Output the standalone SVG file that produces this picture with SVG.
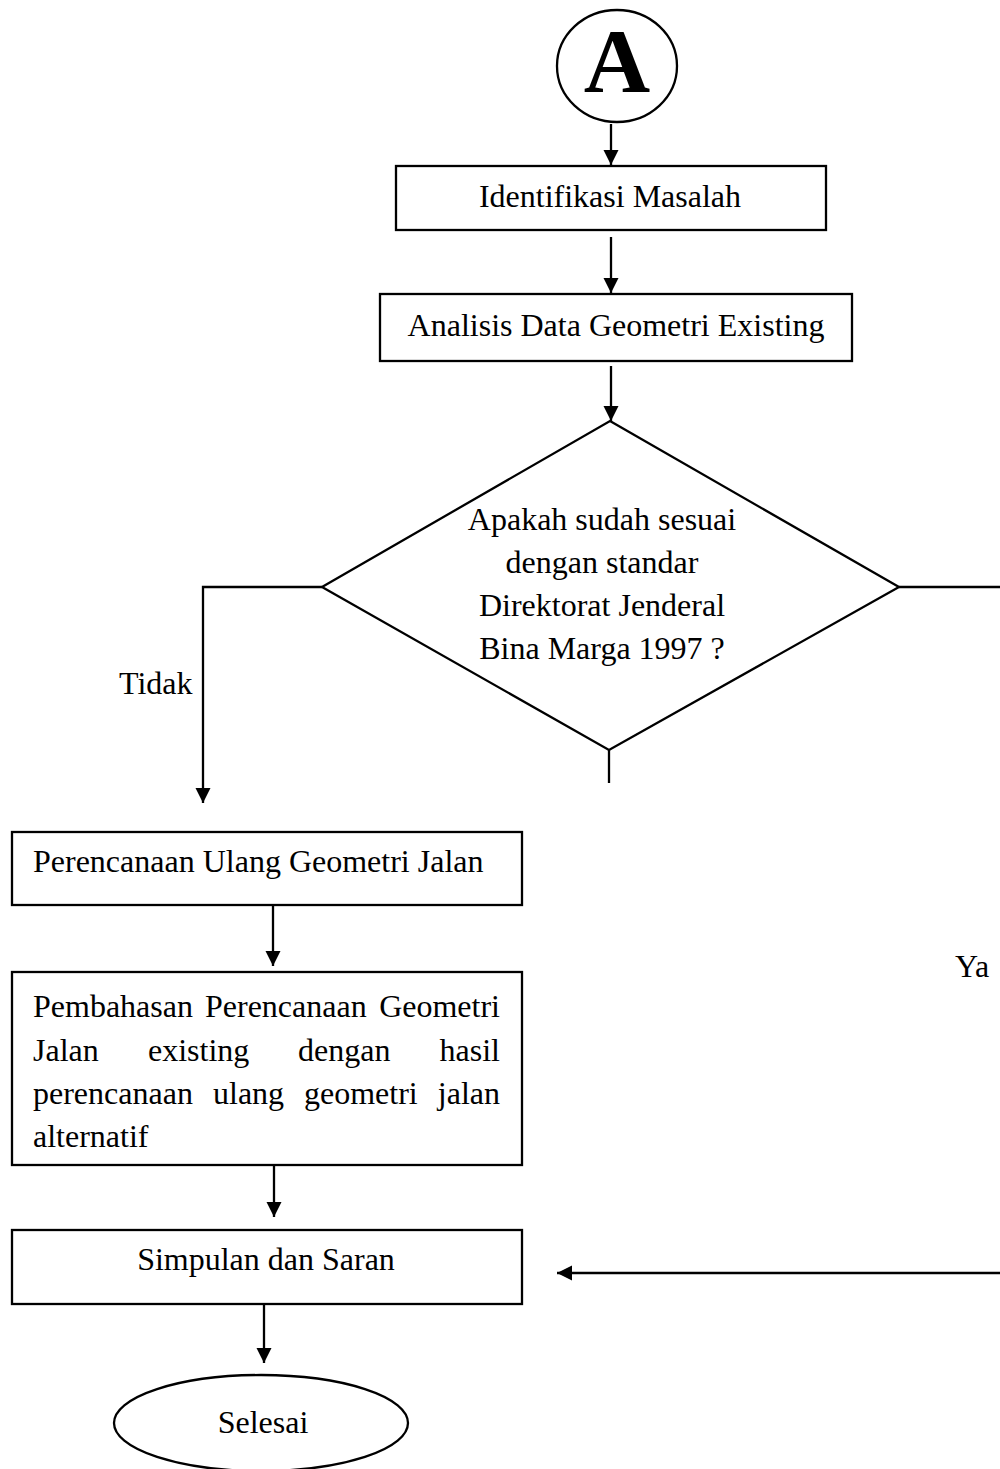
<svg xmlns="http://www.w3.org/2000/svg" width="1000" height="1469" viewBox="0 0 1000 1469">
<style>
.shape{fill:#fff;stroke:#000;stroke-width:2.3}
.conn{fill:none;stroke:#000;stroke-width:2.3}
.t{font-family:"Liberation Serif","Times New Roman",serif;font-size:32px;fill:#000}
.m{text-anchor:middle}
</style>
<defs>
<marker id="ah" markerUnits="userSpaceOnUse" markerWidth="16" markerHeight="17" viewBox="0 0 16 17" refX="15" refY="8" orient="auto">
<path d="M0,0.5 L15,8 L0,15.5 Z" fill="#000"/>
</marker>
</defs>
<rect width="1000" height="1469" fill="#fff"/>
<g id="connectors">
<line class="conn" x1="611" y1="124" x2="611" y2="165" marker-end="url(#ah)"/>
<line class="conn" x1="611" y1="237" x2="611" y2="293" marker-end="url(#ah)"/>
<line class="conn" x1="611" y1="366" x2="611" y2="421" marker-end="url(#ah)"/>
<polyline class="conn" points="322,587 203,587 203,803" marker-end="url(#ah)"/>
<line class="conn" x1="609" y1="750" x2="609" y2="783"/>
<line class="conn" x1="899" y1="587" x2="1000" y2="587"/>
<line class="conn" x1="273" y1="905" x2="273" y2="966" marker-end="url(#ah)"/>
<line class="conn" x1="274" y1="1165" x2="274" y2="1217" marker-end="url(#ah)"/>
<line class="conn" x1="264" y1="1304" x2="264" y2="1363" marker-end="url(#ah)"/>
<line class="conn" x1="1000" y1="1273" x2="557" y2="1273" marker-end="url(#ah)"/>
<text class="t" x="119" y="694">Tidak</text>
<text class="t" x="955" y="977">Ya</text>
</g>
<g id="node-A">
<ellipse class="shape" cx="617" cy="66" rx="60" ry="56"/>
<text class="m" x="617" y="92" font-family="Liberation Serif, Times New Roman, serif" font-size="92" font-weight="bold">A</text>
</g>
<g id="node-identifikasi">
<rect class="shape" x="396" y="166" width="430" height="64"/>
<text class="t m" x="610" y="207">Identifikasi Masalah</text>
</g>
<g id="node-analisis">
<rect class="shape" x="380" y="294" width="472" height="67"/>
<text class="t m" x="616" y="336">Analisis Data Geometri Existing</text>
</g>
<g id="node-decision">
<polygon class="shape" points="610,421 899,587 609,750 322,587"/>
<text class="t m" x="602" y="530">Apakah sudah sesuai</text>
<text class="t m" x="602" y="573">dengan standar</text>
<text class="t m" x="602" y="616">Direktorat Jenderal</text>
<text class="t m" x="602" y="659">Bina Marga 1997 ?</text>
</g>
<g id="node-perencanaan">
<rect class="shape" x="12" y="832" width="510" height="73"/>
<text class="t" x="33" y="872">Perencanaan Ulang Geometri Jalan</text>
</g>
<g id="node-pembahasan">
<rect class="shape" x="12" y="972" width="510" height="193"/>
<text class="t" x="33" y="1017">Pembahasan</text>
<text class="t" x="205" y="1017">Perencanaan</text>
<text class="t" x="500" y="1017" text-anchor="end">Geometri</text>
<text class="t" x="33" y="1061">Jalan</text>
<text class="t" x="148" y="1061">existing</text>
<text class="t" x="298" y="1061">dengan</text>
<text class="t" x="500" y="1061" text-anchor="end">hasil</text>
<text class="t" x="33" y="1104">perencanaan</text>
<text class="t" x="213" y="1104">ulang</text>
<text class="t" x="304" y="1104">geometri</text>
<text class="t" x="500" y="1104" text-anchor="end">jalan</text>
<text class="t" x="33" y="1147">alternatif</text>
</g>
<g id="node-simpulan">
<rect class="shape" x="12" y="1230" width="510" height="74"/>
<text class="t m" x="266" y="1270">Simpulan dan Saran</text>
</g>
<g id="node-selesai">
<ellipse class="shape" cx="261" cy="1423" rx="147" ry="48"/>
<text class="t m" x="263" y="1433">Selesai</text>
</g>
</svg>
